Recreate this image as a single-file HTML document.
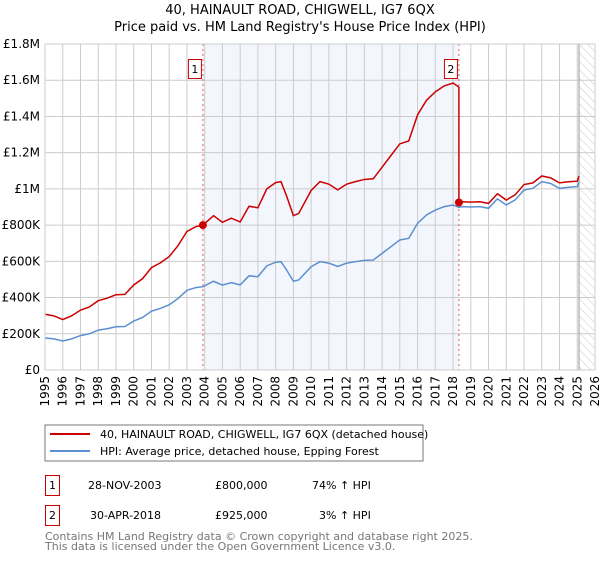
<!DOCTYPE html>
<html><head><meta charset="utf-8"><style>
body{margin:0;background:#fff;font-family:"DejaVu Sans","Liberation Sans",sans-serif;}
svg text{font-family:"DejaVu Sans","Liberation Sans",sans-serif;}
</style></head><body>
<svg id="chart" width="600" height="560" viewBox="0 0 600 560">
<defs><pattern id="hatch" width="6" height="6" patternUnits="userSpaceOnUse" patternTransform="rotate(-45)"><line x1="0" y1="0" x2="0" y2="6" stroke="#ccc" stroke-width="1"/></pattern></defs>
<text x="300" y="14" text-anchor="middle" font-size="13">40, HAINAULT ROAD, CHIGWELL, IG7 6QX</text>
<text x="300" y="31" text-anchor="middle" font-size="13">Price paid vs. HM Land Registry's House Price Index (HPI)</text>
<g id="plot"></g>
<rect x="45" y="425" width="378" height="36" fill="#fff" stroke="#777"/>
<line x1="50" y1="434" x2="90" y2="434" stroke="#cc0000" stroke-width="2"/>
<text x="100" y="438" font-size="11">40, HAINAULT ROAD, CHIGWELL, IG7 6QX (detached house)</text>
<line x1="50" y1="451" x2="90" y2="451" stroke="#5b8fd0" stroke-width="2"/>
<text x="100" y="455" font-size="11">HPI: Average price, detached house, Epping Forest</text>
<g font-size="11">
<rect x="45.5" y="475.5" width="14" height="20" fill="none" stroke="#cc0000"/>
<text x="52.5" y="489" text-anchor="middle">1</text>
<text x="88" y="489">28-NOV-2003</text><text x="215" y="489">£800,000</text><text x="312" y="489">74% ↑ HPI</text>
<rect x="45.5" y="505.5" width="14" height="20" fill="none" stroke="#cc0000"/>
<text x="52.5" y="519" text-anchor="middle">2</text>
<text x="90" y="519">30-APR-2018</text><text x="215" y="519">£925,000</text><text x="319" y="519">3% ↑ HPI</text>
</g>
<text x="45" y="540" font-size="11" fill="#777">Contains HM Land Registry data © Crown copyright and database right 2025.</text>
<text x="45" y="550" font-size="11" fill="#777">This data is licensed under the Open Government Licence v3.0.</text>
</svg>
<script>
const hpiYears=[1995,1995.5,1996,1996.5,1997,1997.5,1998,1998.5,1999,1999.5,2000,2000.5,2001,2001.5,2002,2002.5,2003,2003.5,2003.9,2004.5,2005,2005.5,2006,2006.5,2007,2007.5,2008,2008.3,2008.6,2009,2009.3,2010,2010.5,2011,2011.5,2012,2012.5,2013,2013.5,2014,2014.5,2015,2015.5,2016,2016.5,2017,2017.5,2018,2018.33,2018.5,2019,2019.5,2020,2020.5,2021,2021.5,2022,2022.5,2023,2023.5,2024,2024.5,2025,2025.1];
const hpiValues=[177,172,160,172,190,200,220,228,239,240,270,290,325,340,360,395,440,455,460,490,469,482,470,520,515,575,595,598,555,490,497,570,598,590,572,590,598,605,607,644,681,718,727,810,856,883,902,911,898,902,900,902,893,945,911,939,994,1003,1040,1030,1003,1009,1012,1040];
const saleYears=[2003.9,2018.33];
const salePrices=[800,925];
const yTicks=[0,200,400,600,800,1000,1200,1400,1600,1800];
const yTickLabels=["£0","£200K","£400K","£600K","£800K","£1M","£1.2M","£1.4M","£1.6M","£1.8M"];
const xTicks=[1995,1996,1997,1998,1999,2000,2001,2002,2003,2004,2005,2006,2007,2008,2009,2010,2011,2012,2013,2014,2015,2016,2017,2018,2019,2020,2021,2022,2023,2024,2025,2026];

const L=45,R=595,T=44,B=370;
const x=v=>L+(v-1995)/(2026-1995)*(R-L);
const y=v=>B-v/1800*(B-T);
const NS="http://www.w3.org/2000/svg";
const g=document.getElementById('plot');
function mk(tag,a){const e=document.createElementNS(NS,tag);for(const k in a)e.setAttribute(k,a[k]);g.appendChild(e);return e;}
function hpiAt(t){for(let i=0;i<hpiYears.length-1;i++){if(t<=hpiYears[i+1]){const f=(t-hpiYears[i])/(hpiYears[i+1]-hpiYears[i]);return hpiValues[i]+f*(hpiValues[i+1]-hpiValues[i]);}}return hpiValues[hpiValues.length-1];}

let e=mk('rect',{x:x(saleYears[0]),y:T,width:x(saleYears[1])-x(saleYears[0]),height:B-T,fill:'#f3f6fd'});


const last=hpiYears[hpiYears.length-1];
e=mk('rect',{x:x(last),y:T,width:R-x(last),height:B-T,fill:'url(#hatch)'});


xTicks.forEach(t=>{
 e=mk('line',{x1:x(t),x2:x(t),y1:T,y2:B,stroke:'#ccc','stroke-width':1});
 
 
 e=mk('text',{x:0,y:0,'font-size':12,'text-anchor':'end',transform:`translate(${x(t)+4},${B+6}) rotate(-90)`});
 e.textContent=t;
 
 
});
yTicks.forEach((t,i)=>{
 e=mk('line',{x1:L,x2:R,y1:y(t),y2:y(t),stroke:'#ccc','stroke-width':1});
 
 
 e=mk('text',{x:L-5,y:y(t)+4,'font-size':12,'text-anchor':'end'});
 e.textContent=yTickLabels[i];
 
 
});
e=mk('line',{x1:x(last),x2:x(last),y1:T,y2:B,stroke:'#999','stroke-width':1});


saleYears.forEach((s,i)=>{
 e=mk('line',{x1:x(s),x2:x(s),y1:T,y2:B,stroke:'#e06060','stroke-dasharray':'2,3','stroke-width':1});
 
 
});
e=mk('polyline',{points:hpiYears.map((t,i)=>x(t)+','+y(hpiValues[i])).join(' '),fill:'none',stroke:'#5b8fd0','stroke-width':1.5});


const pts=[];
hpiYears.forEach((t,i)=>{
 let k=0;for(let j=0;j<saleYears.length;j++){if(t>=saleYears[j]-1e-6)k=j;}
 if(t<saleYears[0])k=0;
 const ratio=salePrices[k]/hpiAt(saleYears[k]);
 if(k===1&&pts.length&&Math.abs(t-saleYears[1])<1e-6){pts.push(x(t)+','+y(hpiValues[i]*salePrices[0]/hpiAt(saleYears[0])));}
 pts.push(x(t)+','+y(hpiValues[i]*ratio));
});
e=mk('polyline',{points:pts.join(' '),fill:'none',stroke:'#cc0000','stroke-width':1.5});


saleYears.forEach((s,i)=>{
 e=mk('circle',{cx:x(s),cy:y(salePrices[i]),r:4,fill:'#cc0000'});
 
 
 e=mk('rect',{x:x(s)-14.5,y:59.5,width:13,height:19,fill:'#fff',stroke:'#cc0000'});
 
 
 e=mk('text',{x:x(s)-8,y:73,'font-size':11,'text-anchor':'middle'});
 e.textContent=i+1;
 
 
});
e=mk('rect',{x:L,y:T,width:R-L,height:B-T,fill:'none',stroke:'#ccc'});


</script>
</body></html>
